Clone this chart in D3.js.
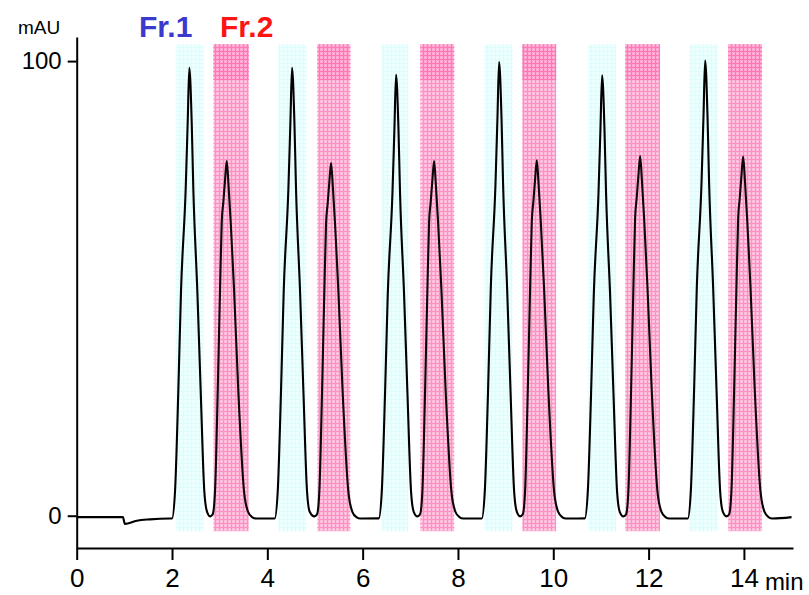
<!DOCTYPE html>
<html>
<head>
<meta charset="utf-8">
<script src="https://cdn.jsdelivr.net/npm/d3@7"></script>
<style>
  body { margin: 0; background: #fff; }
  svg { display: block; font-family: "Liberation Sans", Arial, sans-serif; }
</style>
</head>
<body>
<svg id="chart" width="809" height="595"></svg>
<script>
// retention time (min) and height (mAU) of each peak
var fr1Time = [2.363, 4.518, 6.701, 8.863, 11.024, 13.186];
var fr1Height = [98.5, 98.5, 97.0, 99.8, 96.9, 100.1];
var fr2Time = [3.148, 5.337, 7.499, 9.654, 11.822, 13.984];
var fr2Height = [78.0, 77.6, 78.0, 78.2, 79.1, 79.0];

// collection windows (min)
var fr1Start = [2.08, 4.23, 6.39, 8.55, 10.73, 12.85];
var fr1End = [2.66, 4.82, 6.96, 9.14, 11.32, 13.46];
var fr2Start = [2.87, 5.05, 7.21, 9.35, 11.51, 13.67];
var fr2End = [3.61, 5.74, 7.92, 10.06, 12.24, 14.38];

// peak shapes: [min from apex, fraction of apex]
var fr1Shape = [[-0.363, -0.003], [-0.300, 0.057], [-0.231, 0.280], [-0.174, 0.504],
  [-0.076, 0.731], [-0.034, 0.879], [0, 1], [0.050, 0.879], [0.084, 0.731],
  [0.168, 0.504], [0.239, 0.280], [0.315, 0.057], [0.371, 0.012]];
var fr2Shape = [[-0.350, 0.002], [-0.294, 0.008], [-0.246, 0.072], [-0.189, 0.354],
  [-0.141, 0.636], [-0.105, 0.828], [-0.071, 0.885], [-0.036, 0.946], [0, 1],
  [0.038, 0.932], [0.084, 0.828], [0.153, 0.641], [0.243, 0.354], [0.363, 0.072],
  [0.447, 0.015], [0.531, 0.0], [0.615, -0.004]];

// baseline before the first injection and after the last
var baseline = [[0, -0.3], [0.97, -0.3], [1.01, -1.8], [1.26, -1.1], [1.54, -0.8],
  [1.96, -0.6], [15.0, -0.3]];

var xTicks = [0, 2, 4, 6, 8, 10, 12, 14];
var yTicks = [0, 100];
var bandTop = 103.7, bandBottom = -3.4, denseBottom = 95.8;

var svg = d3.select("#chart");

var x = d3.scaleLinear().domain([0, 15.03]).range([76.7, 793]);
var y = d3.scaleLinear().domain([-7.1, 105.3]).range([548, 37]);

// patterns for the fraction windows
var defs = svg.append("defs");
function pattern(id, base, line, dot) {
	var p = defs.append("pattern").attr("id", id)
		.attr("width", 4).attr("height", 4)
		.attr("patternUnits", "userSpaceOnUse");
	p.append("rect").attr("width", 4).attr("height", 4).attr("fill", base);
	p.append("rect").attr("x", 0).attr("y", 3).attr("width", 4).attr("height", 1).attr("fill", line);
	p.append("rect").attr("x", 3).attr("y", 0).attr("width", 1).attr("height", 4).attr("fill", line);
	p.append("rect").attr("x", 1).attr("y", 1).attr("width", 1).attr("height", 1).attr("fill", dot);
}
pattern("pcyan", "#ecffff", "#dffcfc", "#ffffff");
pattern("ppink", "#ffc2df", "#ff94c8", "#ffeaf4");
pattern("ppinkd", "#ffaad4", "#ff7ab9", "#ffdcee");

function bands(g, tint) {
	for (var i = 0; i < fr1Start.length; i++) {
		if (!tint) {
			g.append("rect")
				.attr("x", x(fr1Start[i])).attr("width", x(fr1End[i]) - x(fr1Start[i]))
				.attr("y", y(bandTop)).attr("height", y(bandBottom) - y(bandTop))
				.attr("fill", "url(#pcyan)");
		}
		g.append("rect")
			.attr("x", x(fr2Start[i])).attr("width", x(fr2End[i]) - x(fr2Start[i]))
			.attr("y", y(bandTop)).attr("height", y(bandBottom) - y(bandTop))
			.attr("fill", tint ? "#ff4f9f" : "url(#ppink)")
			.attr("fill-opacity", tint ? 0.06 : 1);
		if (!tint) {
			g.append("rect")
				.attr("x", x(fr2Start[i])).attr("width", x(fr2End[i]) - x(fr2Start[i]))
				.attr("y", y(bandTop)).attr("height", y(denseBottom) - y(bandTop))
				.attr("fill", "url(#ppinkd)");
		}
	}
}
bands(svg.append("g"), false);

// assemble the trace
var trace = baseline.slice();
for (var i = 0; i < fr1Time.length; i++) {
	fr1Shape.forEach(function(s){ trace.push([fr1Time[i] + s[0], s[1] * fr1Height[i] - 0.3 * (1 - s[1])]); });
	fr2Shape.forEach(function(s){ trace.push([fr2Time[i] + s[0], s[1] * fr2Height[i] - 0.3 * (1 - s[1])]); });
}
trace.sort(function(a, b){ return a[0] - b[0]; });

var line = d3.line()
	.x(function(d){ return x(d[0]); })
	.y(function(d){ return y(d[1]); })
	.curve(d3.curveMonotoneX);

svg.append("path")
	.datum(trace)
	.attr("d", line)
	.attr("fill", "none")
	.attr("stroke", "#000")
	.attr("stroke-width", 2.1)
	.attr("stroke-linejoin", "round");

bands(svg.append("g"), true);

// axes
var xAxis = svg.append("g")
	.attr("transform", "translate(0," + y(-7.1) + ")")
	.call(d3.axisBottom(x).tickValues(xTicks).tickSize(12).tickSizeOuter(0).tickPadding(9));
var yAxis = svg.append("g")
	.attr("transform", "translate(" + x(0) + ",0)")
	.call(d3.axisLeft(y).tickValues(yTicks).tickSize(9).tickSizeOuter(0).tickPadding(6));

[xAxis, yAxis].forEach(function(a){
	a.selectAll("path, line").attr("stroke", "#000").attr("stroke-width", 2);
	a.selectAll("text").attr("fill", "#000").style("font-family", "'Liberation Sans', Arial, sans-serif");
});
xAxis.selectAll("text").style("font-size", "26px");
yAxis.selectAll("text").style("font-size", "24px");

svg.append("text").text("mAU")
	.attr("x", 18).attr("y", 34)
	.style("font-size", "19px");
svg.append("text").text("min")
	.attr("x", x(14.44)).attr("y", 590)
	.style("font-size", "24px");

svg.append("text").text("Fr.1")
	.attr("x", x(1.307)).attr("y", y(105.3))
	.attr("fill", "#3a3ace")
	.style("font-size", "30px").style("font-weight", "bold");
svg.append("text").text("Fr.2")
	.attr("x", x(3.007)).attr("y", y(105.3))
	.attr("fill", "#ff1414")
	.style("font-size", "30px").style("font-weight", "bold");
</script>
</body>
</html>
